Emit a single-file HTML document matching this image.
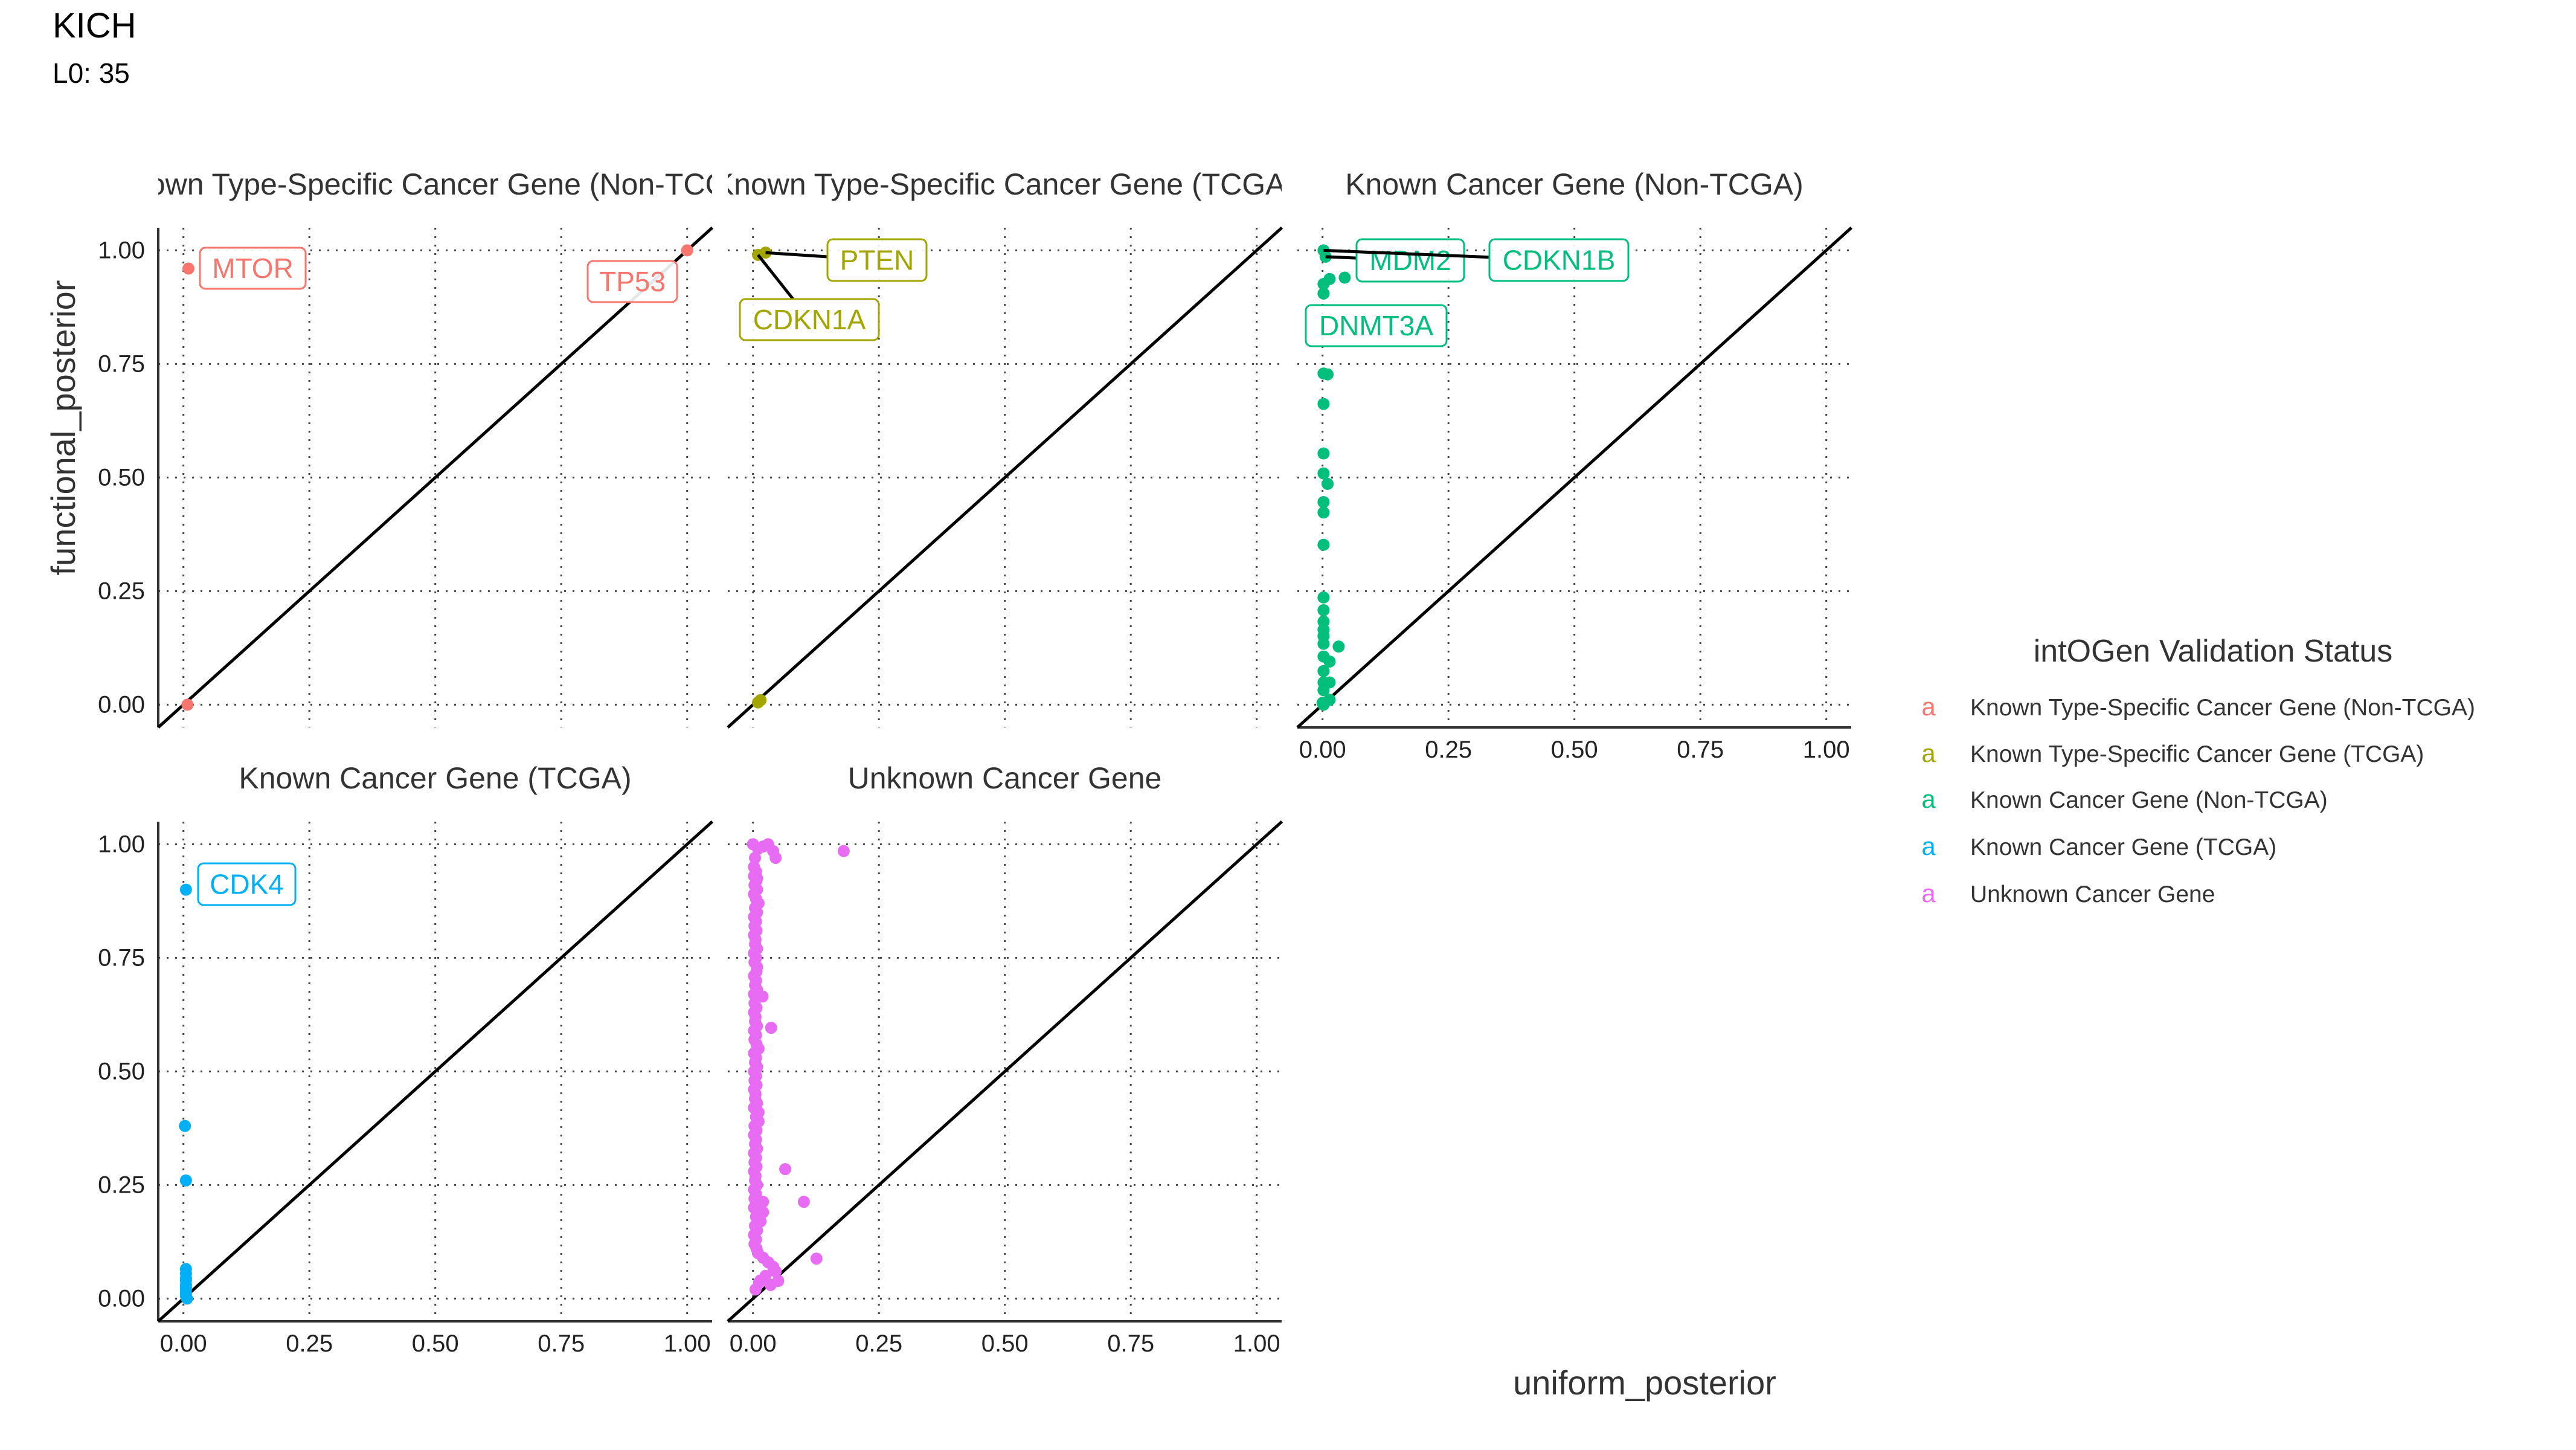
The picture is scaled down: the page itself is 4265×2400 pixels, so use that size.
<!DOCTYPE html>
<html><head><meta charset="utf-8"><style>
html,body{margin:0;padding:0;background:#fff;}
svg{display:block;}
text{font-family:"Liberation Sans",sans-serif;}
</style></head><body>
<svg id="chart" width="4265" height="2400" viewBox="0 0 4265 2400" xmlns="http://www.w3.org/2000/svg">
<rect width="4265" height="2400" fill="#fff"/>
<text x="87" y="62" font-size="58" fill="#000">KICH</text>
<text x="87" y="137" font-size="46" fill="#000">L0: 35</text>
<text transform="translate(124,708) rotate(-90)" text-anchor="middle" font-size="56" fill="#333">functional_posterior</text>
<text x="2723" y="2308" text-anchor="middle" font-size="56" fill="#333">uniform_posterior</text>
<g id="panels"></g>
<g id="legend"></g>
</svg>
<script>
// ---- data ----
const panelTitles = ["Known Type-Specific Cancer Gene (Non-TCGA)","Known Type-Specific Cancer Gene (TCGA)","Known Cancer Gene (Non-TCGA)","Known Cancer Gene (TCGA)","Unknown Cancer Gene"];
const colors = ["#F8766D","#A3A500","#00BF7D","#00B0F6","#E76BF3"];
const tickValues = [0,0.25,0.5,0.75,1];
const tickLabels = ["0.00","0.25","0.50","0.75","1.00"];
const p1X = [0.01,1.0,0.008];
const p1Y = [0.96,1.0,0.0];
const p2X = [0.01,0.025,0.01,0.015];
const p2Y = [0.99,0.995,0.005,0.01];
const p3X = [0.002,0.006,0.014,0.044,0.002,0.002,0.002,0.01,0.002,0.002,0.002,0.01,0.002,0.002,0.002,0.002,0.002,0.002,0.002,0.002,0.002,0.032,0.002,0.014,0.002,0.002,0.014,0.002,0.014,0.002,0.0];
const p3Y = [1.0,0.986,0.937,0.94,0.926,0.905,0.729,0.727,0.662,0.553,0.509,0.486,0.446,0.423,0.352,0.236,0.208,0.183,0.165,0.151,0.134,0.128,0.106,0.095,0.074,0.049,0.049,0.032,0.011,0.0,0.004];
const p4X = [0.005,0.003,0.005,0.005,0.005,0.005,0.005,0.005,0.005,0.005,0.005,0.005,0.007];
const p4Y = [0.90,0.38,0.26,0.065,0.055,0.045,0.04,0.03,0.025,0.02,0.012,0.006,0.0];
const p5X = [0.18,0.045,0.036,0.064,0.101,0.126,0.05,0.03,0.04,0.004,0.0,0.01,0.02,0.011,0.008,0.008,0.019,0.02,0.02,0.015,0.011,0.011,0.011,
 0.002,0.006,0.002,0.007,0.003,0.008,0.002,0.006,0.004,0.008,0.002,0.006,0.003,0.007,0.002,0.005,0.004,0.008,0.002,0.006,0.003,0.007,
 0.002,0.006,0.004,0.008,0.002,0.006,0.003,0.007,0.002,0.005,0.004,0.008,0.002,0.006,0.003,0.007,0.002,0.006,0.004,0.008,0.002,0.006,
 0.003,0.007,0.002,0.005,0.004,0.008,0.002,0.006,0.003,0.007,0.002,0.006,0.004,0.008,0.002,0.006,0.003,0.007,0.002,0.005,0.004,0.008,
 0.002,0.006,0.003,0.007,0.002,0.006,0.004,0.008,0.002,0.006,0.003,0.007,0.01,0.02,0.03,0.04,0.045,0.025,0.015,0.035,0.005,0.012];
const p5Y = [0.985,0.97,0.596,0.285,0.213,0.088,0.039,1.0,0.985,0.97,1.0,0.99,0.995,0.87,0.925,0.73,0.665,0.213,0.19,0.17,0.55,0.41,0.39,
 0.95,0.94,0.93,0.92,0.91,0.90,0.89,0.88,0.86,0.85,0.84,0.83,0.82,0.81,0.80,0.79,0.78,0.77,0.76,0.75,0.74,0.72,
 0.71,0.70,0.69,0.68,0.67,0.66,0.65,0.64,0.63,0.62,0.61,0.60,0.59,0.58,0.57,0.56,0.54,0.53,0.52,0.51,0.50,0.49,
 0.48,0.47,0.46,0.45,0.44,0.43,0.42,0.40,0.38,0.37,0.36,0.35,0.34,0.33,0.32,0.31,0.30,0.29,0.28,0.27,0.26,0.25,
 0.24,0.23,0.22,0.21,0.20,0.18,0.16,0.15,0.14,0.13,0.12,0.11,0.10,0.09,0.08,0.07,0.06,0.05,0.04,0.03,0.02,0.035,0.025,0.012,0.005,0.0];
const panelXs = [p1X,p2X,p3X,p4X,p5X];
const panelYs = [p1Y,p2Y,p3Y,p4Y,p5Y];
const labelTexts = ["MTOR","TP53","PTEN","CDKN1A","MDM2","CDKN1B","DNMT3A","CDK4"];
const labelPanels = [0,0,1,1,2,2,2,3];
const labelPointX = [0.01,1.0,0.025,0.01,0.006,0.002,0.002,0.005];
const labelPointY = [0.96,1.0,0.995,0.99,0.986,1.0,0.905,0.90];
const labelHasSegment = [false,false,true,true,true,true,false,false];

// ---- layout ----
const NS="http://www.w3.org/2000/svg";
const panelLeft=[262,1205,2148,262,1205];
const panelTop=[377,377,377,1360,1360];
const PW=917, PH=827, XU=834, YU=752;
const hasYAxis=[true,false,false,true,false];
const hasXAxis=[false,false,true,true,true];
const labelBoxes=[[69,33,175,68],[711,55,148,68],[165,19,164,69],[20,118,230,68],[98,19,178,70],[318,19,230,69],[14,128,233,68],[66,69,161,69]];
const root=document.getElementById('panels');
function el(tag,attrs,parent){const e=document.createElementNS(NS,tag);for(const k in attrs)e.setAttribute(k,attrs[k]);(parent||root).appendChild(e);return e;}

for(let p=0;p<5;p++){
  const L=panelLeft[p],T=panelTop[p],B=T+PH,R=L+PW;
  const sx=v=>L+(v+0.05)*XU, sy=v=>B-(v+0.05)*YU;
  const g=el('g',{});
  
  
  const cp=el('clipPath',{id:'clip'+p},g);
  el('rect',{x:L,y:T-120,width:PW,height:PH+120},cp);
  const t=el('text',{x:(L+R)/2,y:T-55,'text-anchor':'middle','font-size':50,fill:'#333','clip-path':'url(#clip'+p+')'},g);
  t.textContent=panelTitles[p];
  
  
  for(let i=0;i<tickValues.length;i++){
    const gx=el('line',{x1:sx(tickValues[i]),x2:sx(tickValues[i]),y1:T,y2:B,stroke:'#444','stroke-width':3,'stroke-dasharray':'3,11'},g);
    
    
    const gy=el('line',{x1:L,x2:R,y1:sy(tickValues[i]),y2:sy(tickValues[i]),stroke:'#444','stroke-width':3,'stroke-dasharray':'3,11'},g);
    
    
    if(hasYAxis[p]){
      const yl=el('text',{x:L-22,y:sy(tickValues[i])+13,'text-anchor':'end','font-size':40,fill:'#222'},g);
      yl.textContent=tickLabels[i];
      
      
    }
    if(hasXAxis[p]){
      const xl=el('text',{x:sx(tickValues[i]),y:B+50,'text-anchor':'middle','font-size':40,fill:'#222'},g);
      xl.textContent=tickLabels[i];
      
      
    }
  }
  if(hasYAxis[p]){const a=el('line',{x1:L,x2:L,y1:T,y2:B,stroke:'#333','stroke-width':4},g);}
  if(hasXAxis[p]){const a=el('line',{x1:L,x2:R,y1:B,y2:B,stroke:'#333','stroke-width':4},g);}
  const d=el('line',{x1:sx(-0.05),y1:sy(-0.05),x2:sx(1.05),y2:sy(1.05),stroke:'#000','stroke-width':5},g);
  
  
  const xs=panelXs[p],ys=panelYs[p];
  for(let i=0;i<xs.length;i++){
    const c=el('circle',{cx:sx(xs[i]),cy:sy(ys[i]),r:10,fill:colors[p]},g);
    
    
  }
  for(let k=0;k<labelTexts.length;k++){
    if(labelPanels[k]!==p)continue;
    const [bx,by,bw,bh]=labelBoxes[k];
    const X=L+bx,Y=T+by;
    const px=sx(labelPointX[k]),py=sy(labelPointY[k]);
    const ccx=X+bw/2, ccy=Y+bh/2;
    const dx=ccx-px, dy=ccy-py;
    let tmin=1;
    if(dx!==0){for(const ex of [X,X+bw]){const tt=(ex-px)/dx;const yy=py+tt*dy;if(tt>0&&tt<tmin&&yy>=Y-0.5&&yy<=Y+bh+0.5)tmin=tt;}}
    if(dy!==0){for(const ey of [Y,Y+bh]){const tt=(ey-py)/dy;const xx=px+tt*dx;if(tt>0&&tt<tmin&&xx>=X-0.5&&xx<=X+bw+0.5)tmin=tt;}}
    const ex=px+tmin*dx, ey=py+tmin*dy;
    if(labelHasSegment[k]){
      const s=el('line',{x1:px,y1:py,x2:ex,y2:ey,stroke:'#000','stroke-width':5},g);
      
      
    }
    const r=el('rect',{x:X,y:Y,width:bw,height:bh,rx:9,fill:'#fff','fill-opacity':0.9,stroke:colors[p],'stroke-width':3},g);
    
    
    const tx=el('text',{x:X+bw/2,y:Y+bh/2+16,'text-anchor':'middle','font-size':46,fill:colors[p]},g);
    tx.textContent=labelTexts[k];
    
    
  }
}
// legend
const lg=document.getElementById('legend');
const lt=el('text',{x:3664,y:1095,'text-anchor':'middle','font-size':52,fill:'#333'},lg);
lt.textContent='intOGen Validation Status';


const legendY=[1170,1247,1323,1401,1479];
for(let i=0;i<5;i++){
  const k=el('text',{x:3193,y:legendY[i]+14,'text-anchor':'middle','font-size':42,fill:colors[i]},lg);
  k.textContent='a';
  
  
  const tx=el('text',{x:3262,y:legendY[i]+14,'font-size':39,fill:'#333'},lg);
  tx.textContent=panelTitles[i];
  
  
}
</script>
</body></html>
